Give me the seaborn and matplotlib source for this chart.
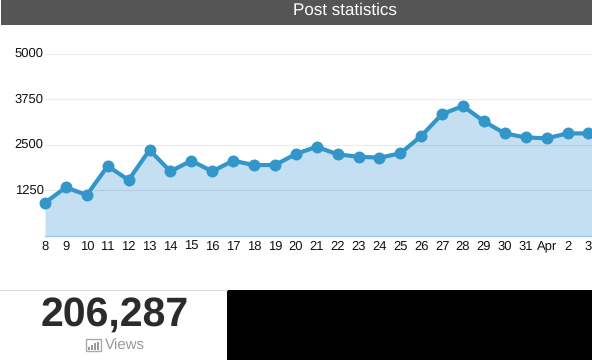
import pandas as pd
import matplotlib.pyplot as plt
import seaborn as sns
from matplotlib.patches import Rectangle

# Values, the last day runs off the right edge
days = ["8", "9", "10", "11", "12", "13", "14", "15", "16", "17", "18", "19", "20", "21",
        "22", "23", "24", "25", "26", "27", "28", "29", "30", "31", "Apr", "2", "3", "4"]
views = [912, 1333, 1123, 1918, 1534, 2356, 1772, 2064, 1772, 2064, 1945, 1945, 2247, 2447,
         2238, 2174, 2146, 2265, 2740, 3343, 3562, 3142, 2813, 2703, 2676, 2813, 2813, 2800]
y_ticks = [1250, 2500, 3750, 5000]
title = "Post statistics"
total = "206,287"
total_label = "Views"

W, H = 592, 360

sns.set_theme(style="white")
plt.rcParams["font.family"] = ["Liberation Sans", "DejaVu Sans"]
plt.rcParams["text.hinting"] = "none"
plt.rcParams["text.hinting_factor"] = 1

df = pd.DataFrame({"day": days, "views": views})

fig = plt.figure(figsize=(W / 100, H / 100), dpi=100, facecolor="white")

# Page furniture in pixel coordinates
bg = fig.add_axes([0, 0, 1, 1])
bg.set_xlim(0, W)
bg.set_ylim(H, 0)
bg.axis("off")
bg.add_patch(Rectangle((1, 0), W - 1, 24.5, color="#555555", lw=0))
bg.add_patch(Rectangle((227, 290), W - 227, 70, color="black", lw=0))
bg.plot([0, 227], [290, 290], color="#dddddd", lw=0.8)
bg.text(345, 10.5, title, color="white", fontsize=12, ha="center", va="center")
bg.text(114.5, 315.5, total, color="#2b2b2b", fontsize=29.5, fontweight="bold", ha="center", va="center")
bg.text(105, 346, total_label, color="#999999", fontsize=10.6, ha="left", va="center")

# little bar chart icon next to Views
bg.add_patch(Rectangle((85.5, 339), 15, 12, fill=False, ec="#aaaaaa", lw=1))
for bx, bh in zip([88, 91, 94, 97], [3, 5, 7, 8]):
    bg.add_patch(Rectangle((bx, 349.5 - bh), 1.8, bh, color="#999999", lw=0))

# Chart
ax = fig.add_axes([45 / W, (H - 236) / H, (W - 45) / W, (236 - 53.6) / H])
ax.patch.set_alpha(0)
ax.fill_between(days, views, 0, color="#c4dff1", lw=0, zorder=1)
for t in y_ticks:
    ax.axhline(t, color="black", alpha=0.08, lw=0.8, zorder=1.5)
sns.lineplot(data=df, x="day", y="views", sort=False, color="#3396cb", linewidth=3, marker="o",
             markersize=8.6, markeredgewidth=0, clip_on=False, zorder=3, ax=ax)

ax.set_xlim(0, (W - 45) / 20.9)
ax.set_ylim(0, 5000)
ax.set_xlabel("")
ax.set_ylabel("")
ax.set_yticks(y_ticks)
ax.set_xticks(range(len(days) - 1))
ax.set_xticklabels(days[:-1])
ax.tick_params(axis="both", length=0, labelsize=9, labelcolor="#111111")
ax.tick_params(axis="x", pad=3.5)
ax.tick_params(axis="y", pad=1)
for lab in ax.get_yticklabels():
    lab.set_verticalalignment("center")
for name in ["top", "right", "left"]:
    ax.spines[name].set_visible(False)
ax.spines["bottom"].set_color("#9ccbe6")
ax.spines["bottom"].set_linewidth(1)

fig.savefig("out.png", dpi=100)
